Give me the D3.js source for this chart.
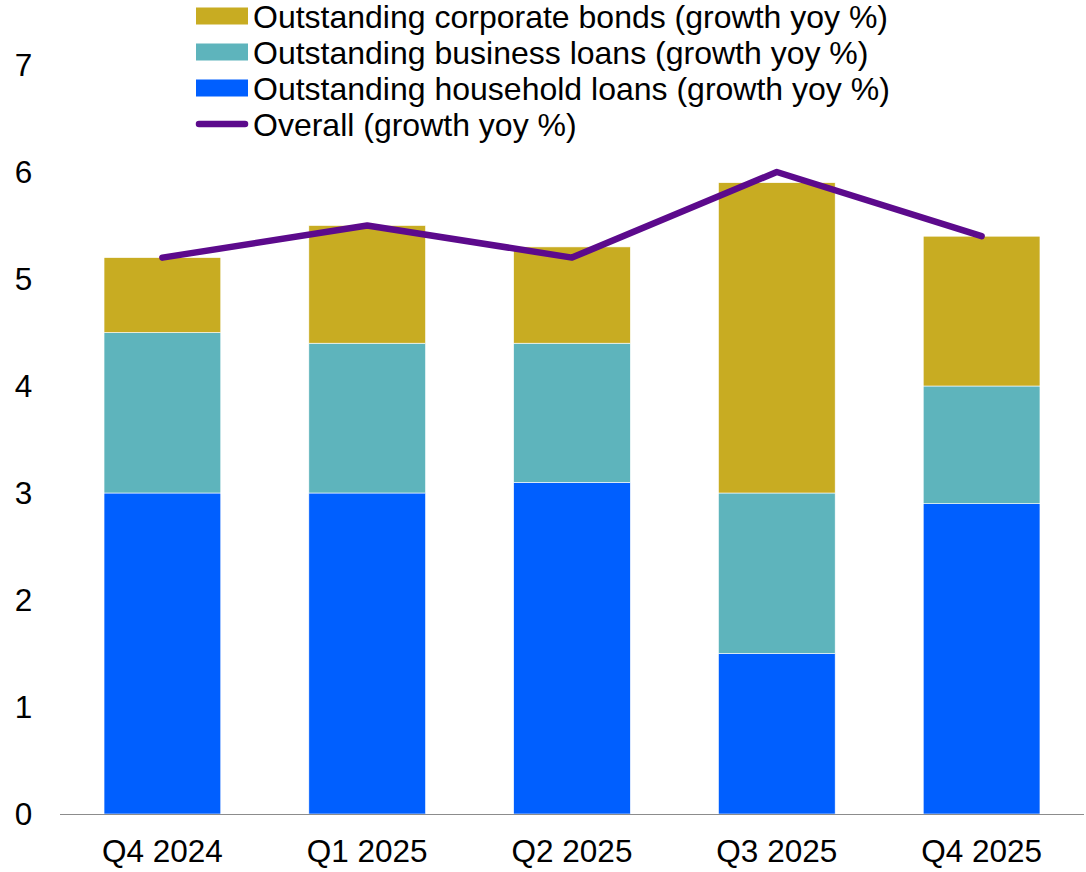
<!DOCTYPE html>
<html><head><meta charset="utf-8">
<script src="https://cdn.jsdelivr.net/npm/d3@7"></script>
<style>body{margin:0;background:#fff}svg{display:block;font-family:"Liberation Sans",Arial,sans-serif}</style>
</head><body><svg id="c" width="1086" height="872"></svg>
<script>
const categories = ["Q4 2024","Q1 2025","Q2 2025","Q3 2025","Q4 2025"];
const household = [3.0, 3.0, 3.1, 1.5, 2.9];
const business = [1.5, 1.4, 1.3, 1.5, 1.1];
const bonds = [0.7, 1.1, 0.9, 2.9, 1.4];
const overall = [5.2, 5.5, 5.2, 6.0, 5.4];
const yTicks = [0,1,2,3,4,5,6,7];
const seriesNames = ["Outstanding household loans (growth yoy %)","Outstanding business loans (growth yoy %)","Outstanding corporate bonds (growth yoy %)"];
const lineName = "Overall (growth yoy %)";
const colors = ["#005FFF","#5EB4BC","#C8AC22"];
const lineColor = "#5C0A8C";

const svg = d3.select("#c");
const x = d3.scaleBand().domain(categories).range([60,1084]).paddingInner(0.43).paddingOuter(0.215);
const y = d3.scaleLinear().domain([0,7]).range([814,65]);

const rows = categories.map((c,i)=>({cat:c, household:household[i], business:business[i], bonds:bonds[i]}));
const stack = d3.stack().keys(["household","business","bonds"])(rows);

svg.append("g").selectAll("g").data(stack).join("g").attr("fill",(d,i)=>colors[i])
  .selectAll("rect").data(d=>d).join("rect")
  .attr("x",d=>x(d.data.cat)).attr("width",x.bandwidth())
  .attr("y",d=>y(d[1])).attr("height",d=>y(d[0])-y(d[1]))
  .attr("stroke","#fff").attr("stroke-width",0.6);

// axis line
svg.append("line").attr("x1",60).attr("x2",1084).attr("y1",y(0)+0.5).attr("y2",y(0)+0.5).attr("stroke","#8c8c8c").attr("stroke-width",1.2);

// y tick labels
svg.append("g").selectAll("text").data(yTicks).join("text")
  .attr("x",23.5).attr("y",d=>y(d)).attr("dy","0.36em").attr("text-anchor","middle")
  .attr("font-size",31.5).attr("fill","#000").text(d=>d);

// x labels
svg.append("g").selectAll("text").data(categories).join("text")
  .attr("x",d=>x(d)+x.bandwidth()/2).attr("y",862).attr("text-anchor","middle")
  .attr("font-size",31.5).attr("fill","#000").text(d=>d);

// line
const line = d3.line().x((d,i)=>x(categories[i])+x.bandwidth()/2).y(d=>y(d));
svg.append("path").datum(overall).attr("d",line).attr("fill","none")
  .attr("stroke",lineColor).attr("stroke-width",6.5).attr("stroke-linecap","round").attr("stroke-linejoin","round");

// legend
const leg = [
  {name:seriesNames[2], color:colors[2], type:"rect"},
  {name:seriesNames[1], color:colors[1], type:"rect"},
  {name:seriesNames[0], color:colors[0], type:"rect"},
  {name:lineName, color:lineColor, type:"line"}
];
const lg = svg.append("g");
leg.forEach((d,i)=>{
  const cy = 16 + i*36;
  if(d.type==="rect"){
    lg.append("rect").attr("x",196).attr("y",cy-8.5).attr("width",52).attr("height",17).attr("fill",d.color);
  } else {
    lg.append("line").attr("x1",199).attr("x2",245).attr("y1",cy).attr("y2",cy).attr("stroke",d.color).attr("stroke-width",6.5).attr("stroke-linecap","round");
  }
  lg.append("text").attr("x",253).attr("y",cy).attr("dy","0.36em").attr("font-size",32).attr("fill","#000").text(d.name);
});
</script></body></html>
